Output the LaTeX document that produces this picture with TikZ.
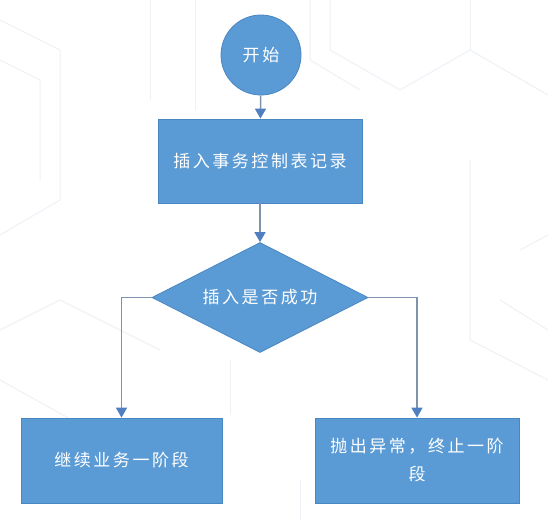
\documentclass[tikz,border=0pt]{standalone}
\usepackage{fontspec}
\newfontfamily\cjk[LetterSpace=15]{Noto Sans CJK SC}
\usetikzlibrary{shapes.geometric,arrows.meta}
\definecolor{boxblue}{HTML}{5B9BD5}
\definecolor{boxedge}{HTML}{4A86C2}
\definecolor{linecol}{HTML}{7F93AE}
\definecolor{tipcol}{HTML}{4F7FC0}
\definecolor{bgline}{HTML}{EDF1F6}
\tikzset{
  base/.style={fill=boxblue, draw=boxedge, line width=0.8pt, text=white,
    font=\cjk\fontsize{17}{28}\selectfont, inner sep=0pt, align=center},
  startnode/.style={base, circle, minimum size=80pt},
  procbox/.style={base, rectangle, minimum width=204pt, minimum height=84pt},
  decision/.style={base, diamond, minimum width=216pt, minimum height=110pt, aspect=1.96},
  flow/.style={draw=linecol, line width=1.5pt,
    -{Triangle[length=10pt,width=11pt,fill=tipcol,color=tipcol]}},
  bg/.style={draw=bgline, line width=1pt}
}
\begin{document}
\begin{tikzpicture}[x=1pt,y=-1pt]
\useasboundingbox (0,0) rectangle (548,520);
\fill[white] (0,0) rectangle (548,520);
% faint background pattern
\draw[bg] (0,20) -- (60,50) -- (60,200) -- (0,235);
\draw[bg] (0,60) -- (40,80) -- (40,180);
\draw[bg] (150,0) -- (150,100);
\draw[bg] (195,0) -- (195,110);
\draw[bg] (310,0) -- (310,60) -- (360,90);
\draw[bg] (330,0) -- (330,50) -- (400,90) -- (470,50) -- (548,95);
\draw[bg] (470,0) -- (470,50);
\draw[bg] (0,330) -- (60,300) -- (160,350);
\draw[bg] (0,380) -- (90,430);
\draw[bg] (300,520) -- (300,480);
\draw[bg] (520,250) -- (548,235);
\draw[bg] (470,160) -- (470,340) -- (548,380);
\draw[bg] (230,360) -- (230,415);
\draw[bg] (500,300) -- (548,330);
% nodes
\node[startnode] (start) at (261,55) {开始};
\node[procbox] (insert) at (260,161) {插入事务控制表记录};
\node[decision] (check) at (260,297.5) {插入是否成功};
\node[procbox, minimum width=201pt, minimum height=85pt] (cont) at (121.5,460.5) {继续业务一阶段};
\node[procbox, minimum width=204pt, minimum height=85pt] (fail) at (417,460.5) {抛出异常，终止一阶\\段};
% connectors
\draw[flow] (start) -- (insert);
\draw[flow] (insert) -- (check);
\draw[flow] (check.west) -| (cont.north);
\draw[flow] (check.east) -| (fail.north);
\end{tikzpicture}
\end{document}
